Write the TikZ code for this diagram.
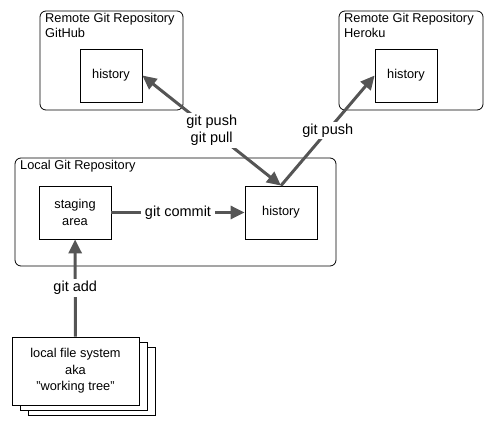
\documentclass[tikz,border=0pt]{standalone}
\usepackage{fontspec}
\setmainfont{Liberation Sans}
\usetikzlibrary{arrows.meta}
\definecolor{arrowgray}{RGB}{85,85,85}

\begin{document}
\begin{tikzpicture}[x=1pt,y=-1pt]
      \tikzstyle{every node}+=[inner sep=0pt]
      \tikzstyle{repo}=[draw=black, line width=0.8pt, rounded corners=6pt]
      \tikzstyle{store}=[draw=black, fill=white, line width=0.8pt, align=center, font=\fontsize{12.8}{16.5}\selectfont]
      \tikzstyle{title}=[anchor=north west, align=left, font=\fontsize{12.8}{15.5}\selectfont]
      \tikzstyle{git}=[draw=arrowgray, line width=3pt, >={Triangle[length=14pt,width=13pt]}]
      \tikzstyle{cmd}=[fill=white, align=center, inner xsep=4pt, inner ysep=2pt, font=\fontsize{14.5}{17}\selectfont]
      \useasboundingbox (0,0) rectangle (494,427);
      \node [repo, minimum width=143pt, minimum height=99pt] (github) at (111.5,60.5) {};
      \node [title] (githubname) at (45,13) {Remote Git Repository\\GitHub};
      \node [store, minimum width=62pt, minimum height=53pt] (ghhistory) at (111,75.5) {history};
      \node [repo, minimum width=144pt, minimum height=99pt] (heroku) at (411,60.5) {};
      \node [title] (herokuname) at (344,13) {Remote Git Repository\\Heroku};
      \node [store, minimum width=62pt, minimum height=53pt] (hkhistory) at (406,75.5) {history};
      \node [repo, minimum width=321pt, minimum height=108pt] (local) at (175.5,212) {};
      \node [title] (localname) at (20,160) {Local Git Repository};
      \node [store, minimum width=72pt, minimum height=53pt] (staging) at (75,212.5) {staging\\area};
      \node [store, minimum width=72pt, minimum height=53pt] (lhistory) at (281,212.5) {history};
      \node [store, minimum width=127pt, minimum height=68pt] (files3) at (91.5,381) {};
      \node [store, minimum width=127pt, minimum height=68pt] (files2) at (83.5,376) {};
      \node [store, minimum width=127pt, minimum height=68pt] (files) at (75.5,371) {local file system\\aka\\"working tree"};
      \draw [git, ->] (files) -- node [cmd] {git add} (staging);
      \draw [git, ->] (staging) -- node [cmd] {git commit} (lhistory);
      \draw [git, <->] (lhistory.north) -- node [cmd] {git push\\git pull} (ghhistory.east);
      \draw [git, ->] (lhistory.north) -- node [cmd] {git push} (hkhistory.west);
\end{tikzpicture}
\end{document}
